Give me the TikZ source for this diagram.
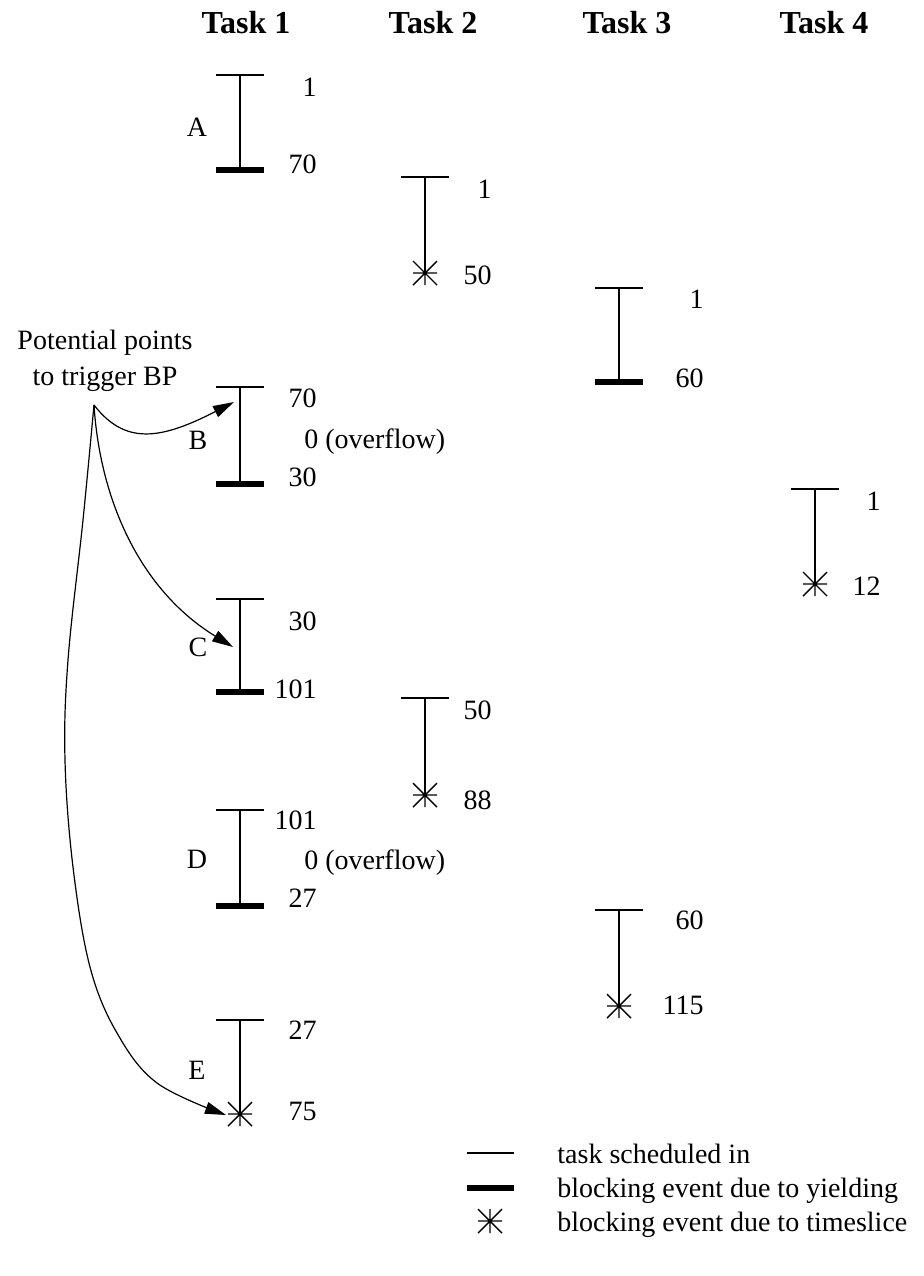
\documentclass[tikz,border=0pt]{standalone}
\usepackage{fontspec}
\setmainfont{Liberation Serif}
\usetikzlibrary{arrows.meta}

% one scheduled run of a task: start tick, run line, end marker
\newcommand\runyield[4]{% name, x, top, bottom: ends by yielding
  \coordinate (#1-top) at (#2,#3);
  \coordinate (#1-end) at (#2,#4);
  \draw[tickln] (#2-24,#3) -- (#2+24,#3);
  \draw[runln] (#1-top) -- (#1-end);
  \draw[yieldln] (#2-24,#4) -- (#2+24,#4);}
\newcommand\runslice[4]{% name, x, top, bottom: ends by timeslice
  \coordinate (#1-top) at (#2,#3);
  \coordinate (#1-end) at (#2,#4);
  \draw[tickln] (#2-24,#3) -- (#2+24,#3);
  \draw[runln] (#1-top) -- (#1-end);
  \draw[starln] (#2-12,#4) -- (#2+12,#4) (#2,#4) -- (#2,#4+12)
    (#2-12,#4-12) -- (#2+12,#4+12) (#2-12,#4+12) -- (#2+12,#4-12);}

\begin{document}
\begin{tikzpicture}[x=0.5pt,y=-0.5pt,
  tickln/.style={line width=0.8pt},
  runln/.style={line width=1.25pt},
  yieldln/.style={line width=2.6pt},
  starln/.style={line width=0.7pt},
  lbl/.style={inner sep=0pt,font=\fontsize{14}{17}\selectfont},
  num/.style={lbl,anchor=east},
  hdr/.style={inner sep=0pt,anchor=base,font=\fontsize{16}{19}\selectfont\bfseries},
  ptr/.style={line width=0.6pt,-{Triangle[length=10.5pt,width=6pt]}}]
\useasboundingbox (0,0) rectangle (924,1276);

% column headings
\node[hdr] (h1) at (246,33) {Task 1};
\node[hdr] (h2) at (433,33) {Task 2};
\node[hdr] (h3) at (627,33) {Task 3};
\node[hdr] (h4) at (824,33) {Task 4};

% Task 1
\runyield{A}{240}{75}{170}
\node[lbl] (lA) at (197,127) {A};
\node[num] (a1) at (317,87) {1};
\node[num] (a2) at (317,164) {70};

\runyield{B}{240}{387}{484}
\node[lbl] (lB) at (198,440) {B};
\node[num] (b1) at (317,398) {70};
\node[lbl,anchor=base west] (b2) at (304,448) {0 (overflow)};
\node[num] (b3) at (317,477) {30};

\runyield{C}{240}{599}{692}
\node[lbl] (lC) at (198,647) {C};
\node[num] (c1) at (317,621) {30};
\node[num] (c2) at (317,689) {101};

\runyield{D}{240}{810}{906}
\node[lbl] (lD) at (197,859) {D};
\node[num] (d1) at (317,820) {101};
\node[lbl,anchor=base west] (d2) at (304,869) {0 (overflow)};
\node[num] (d3) at (317,898) {27};

\runslice{E}{240}{1020}{1114}
\node[lbl] (lE) at (197,1070) {E};
\node[num] (e1) at (317,1030) {27};
\node[num] (e2) at (317,1111) {75};

% Task 2
\runslice{F}{425}{177}{273}
\node[num] (f1) at (492,189) {1};
\node[num] (f2) at (492,275) {50};
\runslice{G}{425}{698}{795}
\node[num] (g1) at (492,710) {50};
\node[num] (g2) at (492,800) {88};

% Task 3
\runyield{H}{619}{288}{382}
\node[num] (k1) at (704,299) {1};
\node[num] (k2) at (704,378) {60};
\runslice{J}{619}{910}{1006}
\node[num] (j1) at (704,920) {60};
\node[num] (j2) at (704,1005) {115};

% Task 4
\runslice{K}{815}{489}{584}
\node[num] (m1) at (881,501) {1};
\node[num] (m2) at (881,586) {12};

% breakpoint trigger points
\node[lbl,align=center,font=\fontsize{14}{18}\selectfont] (trig) at (105,361) {Potential points\\to trigger BP};
\coordinate (src) at (94,405);
\coordinate (tipB) at (234,402);
\coordinate (tipC) at (233,647);
\coordinate (tipE) at (226,1115);
\draw[ptr] (src) .. controls (125,445) and (160,440) .. (tipB);
\draw[ptr] (src) .. controls (100,500) and (140,590) .. (tipC);
\draw[ptr] plot[smooth,tension=0.6] coordinates {(src) (83,520) (68,660) (65,760) (73,867) (90,967) (117,1033) (157,1083) (tipE)};

% legend
\coordinate (k1a) at (467,1153);
\coordinate (k1b) at (514,1153);
\coordinate (k2a) at (467,1188);
\coordinate (k2b) at (514,1188);
\draw[tickln] (k1a) -- (k1b);
\draw[yieldln] (k2a) -- (k2b);
\draw[starln] (478,1221) -- (502,1221) (490,1209) -- (490,1233)
  (478,1209) -- (502,1233) (478,1233) -- (502,1209);
\node[lbl,anchor=base west] (t1) at (557,1163) {task scheduled in};
\node[lbl,anchor=base west] (t2) at (557,1197) {blocking event due to yielding};
\node[lbl,anchor=base west] (t3) at (557,1231) {blocking event due to timeslice};
\end{tikzpicture}
\end{document}
